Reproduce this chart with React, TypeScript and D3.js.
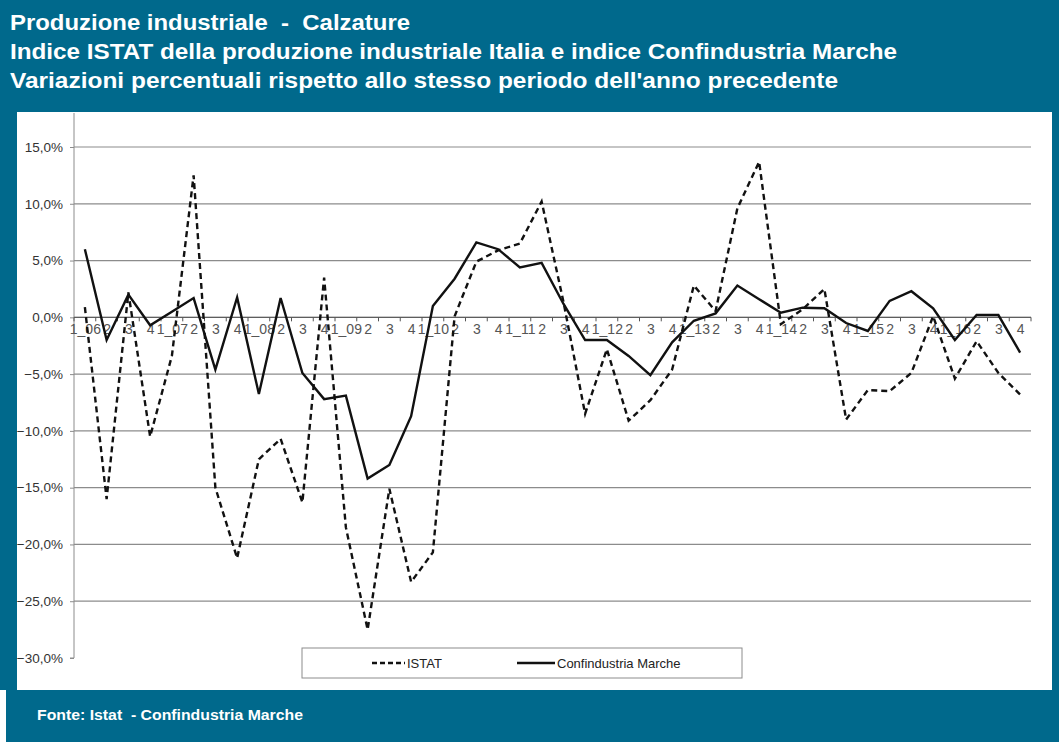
//@ts-nocheck
import * as d3 from "d3";
import { useEffect, useRef } from "react";

const titleLines = [
  "Produzione industriale  -  Calzature",
  "Indice ISTAT della produzione industriale Italia e indice Confindustria Marche",
  "Variazioni percentuali rispetto allo stesso periodo dell'anno precedente",
];
const titleWidths = [400, 887, 828];
const sourceText = "Fonte: Istat  - Confindustria Marche";

// quarters 1_06 ... 4_16
const years = ["06", "07", "08", "09", "10", "11", "12", "13", "14", "15", "16"];
const quarterKeys = years.flatMap((y) => [y + "q1", y + "q2", y + "q3", y + "q4"]);
const quarterLabels = years.flatMap((y) => ["1_" + y, "2", "3", "4"]);

const istat = [
  0.9, -16.0, 2.2, -10.5, -3.4, 12.5, -15.0, -21.2, -12.5, -10.7, -16.3,
  3.5, -18.5, -27.5, -15.1, -23.3, -20.7, 0.1, 4.9, 5.9, 6.5, 10.2,
  1.4, -8.5, -2.8, -9.1, -7.3, -4.6, 2.8, 0.55, 9.6, 13.7, -0.6,
  0.7, 2.5, -9.0, -6.4, -6.5, -4.9, 0.1, -5.4, -2.1, -4.9, -6.8,
];
const confindustria = [
  6.0, -2.0, 2.0, -0.7, 0.5, 1.7, -4.6, 1.75, -6.75, 1.7, -4.9,
  -7.2, -6.9, -14.2, -13.0, -8.7, 1.0, 3.4, 6.6, 6.0, 4.4, 4.8,
  1.2, -2.0, -2.0, -3.4, -5.1, -2.2, -0.3, 0.35, 2.8, 1.6, 0.4,
  0.85, 0.8, -0.5, -1.2, 1.45, 2.3, 0.8, -2.0, 0.2, 0.2, -3.1,
];
const yTicks = [15, 10, 5, 0, -5, -10, -15, -20, -25, -30];

const W = 1059, H = 742;
const teal = "#00698c";
const font = "Liberation Sans, Arial, sans-serif";

const drawChart = (ref) => {
  const svg = d3.select(ref).attr("width", W).attr("height", H);

  // background frame
  svg.append("rect").attr("width", W).attr("height", H).attr("fill", teal);
  svg.append("rect").attr("x", 0).attr("y", 690).attr("width", 6).attr("height", 52).attr("fill", "#fff");
  svg.append("rect").attr("x", 17).attr("y", 112).attr("width", 1035).attr("height", 578).attr("fill", "#fff");

  // titles
  svg.selectAll("text.title")
    .data(titleLines)
    .enter()
    .append("text")
    .attr("class", "title")
    .attr("x", 10)
    .attr("y", (d, i) => 30 + i * 29)
    .attr("fill", "#fff")
    .attr("font-family", font)
    .attr("font-weight", "bold")
    .attr("font-size", 22)
    .attr("textLength", (d, i) => titleWidths[i])
    .attr("lengthAdjust", "spacingAndGlyphs")
    .style("white-space", "pre")
    .text(d => d);

  svg.append("text")
    .attr("x", 37)
    .attr("y", 720)
    .attr("fill", "#fff")
    .attr("font-family", font)
    .attr("font-weight", "bold")
    .attr("font-size", 14.5)
    .attr("textLength", 266)
    .attr("lengthAdjust", "spacingAndGlyphs")
    .style("white-space", "pre")
    .text(sourceText);

  const left = 74, right = 1031;
  const x = d3.scalePoint().domain(quarterKeys).range([left, right]).padding(0.5);
  const band = x.step();
  const y = d3.scaleLinear().domain([-30, 15]).range([658, 147]);

  // gridlines (none at -30)
  svg.append("g")
    .selectAll("line")
    .data(yTicks.filter(t => t > -30))
    .enter()
    .append("line")
    .attr("x1", left).attr("x2", right)
    .attr("y1", d => y(d)).attr("y2", d => y(d))
    .attr("stroke", "#8c8c8c")
    .attr("stroke-width", 1.2);

  // y axis
  const yAxis = svg.append("g").attr("transform", `translate(${left},0)`)
    .call(d3.axisLeft(y).tickValues(yTicks).tickSize(4)
      .tickFormat(d => d3.format(".1f")(d).replace(".", ",") + "%"));
  yAxis.select(".domain").attr("stroke", "#8c8c8c").attr("d", `M-4,${y(-30)}H0V${y(15) - 34}`);
  yAxis.selectAll(".tick line").attr("stroke", "#8c8c8c");
  yAxis.selectAll(".tick text")
    .attr("fill", "#333")
    .attr("font-family", font)
    .attr("font-size", 13.5)
    .attr("x", -11);

  // x axis at 0
  const xAxis = svg.append("g").attr("transform", `translate(0,${y(0)})`)
    .call(d3.axisBottom(x).tickSize(0).tickPadding(7)
      .tickFormat((d, i) => quarterLabels[i]));
  xAxis.select(".domain").attr("stroke", "#555").attr("d", `M${left},0H${right}`);
  xAxis.selectAll(".tick text")
    .attr("fill", "#555")
    .attr("font-family", font)
    .attr("font-size", 14);
  xAxis.selectAll("line.sep")
    .data(d3.range(quarterKeys.length + 1))
    .enter()
    .append("line")
    .attr("class", "sep")
    .attr("x1", i => left + i * band).attr("x2", i => left + i * band)
    .attr("y1", 0).attr("y2", 4)
    .attr("stroke", "#555");

  const line = d3.line().x((d, i) => x(quarterKeys[i])).y(d => y(d));

  svg.append("path")
    .datum(istat)
    .attr("d", line)
    .attr("fill", "none")
    .attr("stroke", "#111")
    .attr("stroke-width", 2.4)
    .attr("stroke-dasharray", "6,4");

  svg.append("path")
    .datum(confindustria)
    .attr("d", line)
    .attr("fill", "none")
    .attr("stroke", "#111")
    .attr("stroke-width", 2.4);

  // legend
  const lg = svg.append("g");
  lg.append("rect")
    .attr("x", 302).attr("y", 648).attr("width", 440).attr("height", 30)
    .attr("fill", "#fff").attr("stroke", "#8c8c8c");
  const items = [
    { name: "ISTAT", dash: "5,3", x0: 372, x1: 405 },
    { name: "Confindustria Marche", dash: null, x0: 517, x1: 555 },
  ];
  items.forEach(it => {
    lg.append("line")
      .attr("x1", it.x0).attr("x2", it.x1).attr("y1", 663).attr("y2", 663)
      .attr("stroke", "#111").attr("stroke-width", 2.4)
      .attr("stroke-dasharray", it.dash);
    lg.append("text")
      .attr("x", it.x1 + 2).attr("y", 667.5)
      .attr("fill", "#222")
      .attr("font-family", font)
      .attr("font-size", 13)
      .text(it.name);
  });
};

const App = () => {
  const chartRef = useRef(null);

  useEffect(() => {
    chartRef.current.innerHTML = "";
    drawChart(chartRef.current);
  }, []);

  return (
    <div style={{ position: "absolute", left: 0, top: 0 }}>
      <svg ref={chartRef} style={{ display: "block" }}></svg>
    </div>
  );
};

export default App;
